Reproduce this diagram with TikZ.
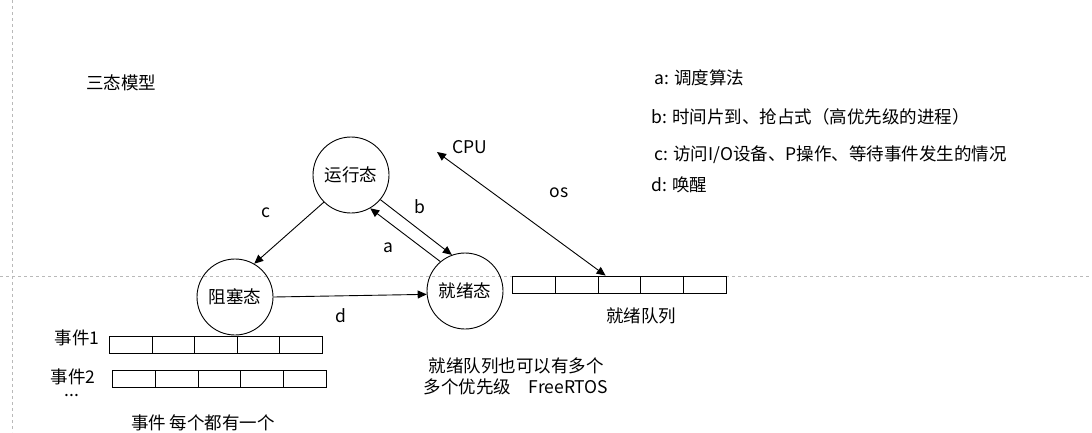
\documentclass[tikz,border=0pt]{standalone}
\usepackage{fontspec}
\setmainfont{Noto Sans CJK SC}
\usetikzlibrary{arrows.meta}
\begin{document}
\begin{tikzpicture}[x=1pt,y=-1pt,
  st/.style={draw,circle,minimum size=76pt,inner sep=0pt,line width=0.9pt,font=\fontsize{17.5}{19}\selectfont},
  t/.style={font=\fontsize{17.5}{19}\selectfont,inner sep=0pt},
  arr/.style={-{Triangle[length=9pt,width=8pt]},line width=0.9pt},
  cell/.style={draw,line width=0.9pt,minimum height=17pt,inner sep=0pt,anchor=west},
  guide/.style={draw=gray!55,dashed,line width=0.6pt}]
\useasboundingbox (0,0) rectangle (1092,432);
\draw[guide] (12,0) -- (12,432);
\draw[guide] (0,276) -- (1092,276);
\node[st] (run) at (351,175) {运行态};
\node[st] (blk) at (235,297) {阻塞态};
\node[st] (rdy) at (465,291) {就绪态};
% queues
\foreach \nm/\x/\y/\w in {q/512/284.5/42.8, e/109/344.5/42.6, f/112/378.5/42.8}{
  \foreach \i in {0,...,4}{
    \node[cell,minimum width=\w pt] (\nm\i) at ({\x+\i*\w},\y) {};
  }
}
\coordinate (cpu) at (437,152);
\coordinate (qend) at ([xshift=8pt]q2.north west);
\draw[{Triangle[length=9pt,width=8pt]}-{Triangle[length=9pt,width=8pt]},line width=0.9pt] (cpu) -- (qend);
\draw[arr] (run.225) -- (blk.60);
\draw[arr] (run.-40) -- (rdy.110);
\draw[arr] (rdy.130) -- (run.-60);
\draw[arr] (blk.east) -- (rdy.185);
\node[t,anchor=west] (title) at (86,83) {三态模型};
\node[t,anchor=west] (la) at (654,78) {a: 调度算法};
\node[t,anchor=west] (lb) at (651,117) {b: 时间片到、抢占式（高优先级的进程）};
\node[t,anchor=west] (lc) at (654,155) {c: 访问I/O设备、P操作、等待事件发生的情况};
\node[t,anchor=west] (ld) at (651,185) {d: 唤醒};
\node[t] (cpul) at (470,147) {CPU};
\node[t] (osl) at (559,193) {os};
\node[t] (cl) at (266,213) {c};
\node[t] (bl) at (420,207) {b};
\node[t] (al) at (388,248) {a};
\node[t] (dl) at (341,316) {d};
\node[t] (rq) at (641,316) {就绪队列};
\node[t] (e1) at (77,338) {事件1};
\node[t] (e2) at (73,377) {事件2};
\node[t] (dots) at (72,396) {...};
\node[t] (n1) at (516,366) {就绪队列也可以有多个};
\node[t] (n2) at (516,387) {多个优先级\quad FreeRTOS};
\node[t] (n3) at (203,423) {事件 每个都有一个};
\end{tikzpicture}
\end{document}
